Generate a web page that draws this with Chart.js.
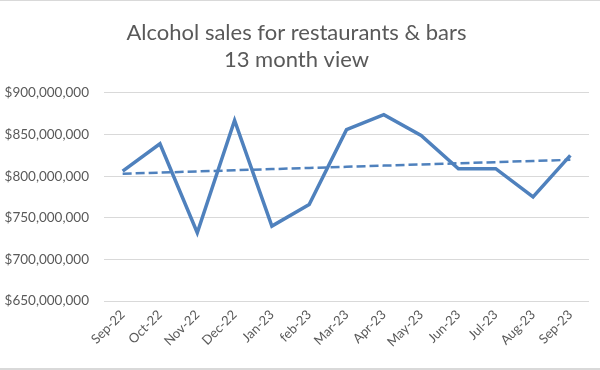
<!DOCTYPE html>
<html>
<head>
<meta charset="utf-8">
<script src="https://cdn.jsdelivr.net/npm/chart.js@4/dist/chart.umd.min.js"></script>
<style>
  html, body { margin: 0; padding: 0; background: #fff; }
  #wrap { width: 600px; height: 370px; box-sizing: border-box; border-top: 1px solid #d9d9d9; border-bottom: 2px solid #d9d9d9; }
  canvas { display: block; }
</style>
</head>
<body>
<div id="wrap"><canvas id="c" width="600" height="367"></canvas></div>
<script>
const months = ["Sep-22","Oct-22","Nov-22","Dec-22","Jan-23","feb-23","Mar-23","Apr-23","May-23","Jun-23","Jul-23","Aug-23","Sep-23"];
const sales = [806000000, 839000000, 732000000, 867000000, 740000000, 766000000, 856000000, 874000000, 849000000, 809000000, 809000000, 775000000, 825000000];
const yTicks = [650000000, 700000000, 750000000, 800000000, 850000000, 900000000];
const titleLines = ["Alcohol sales for restaurants & bars", "13 month view"];

// Linear trendline (least squares) derived from sales
const n = sales.length;
const xMean = (n - 1) / 2;
const yMean = sales.reduce((a, b) => a + b, 0) / n;
let num = 0, den = 0;
sales.forEach((v, i) => { num += (i - xMean) * (v - yMean); den += (i - xMean) * (i - xMean); });
const slope = num / den;
const trend = sales.map((v, i) => yMean + slope * (i - xMean));

const grey = '#595959';
const blue = '#4f81bd';
const font = "Lato, 'Liberation Sans', sans-serif";

new Chart(document.getElementById('c'), {
  type: 'line',
  data: {
    labels: months,
    datasets: [
      { data: sales, borderColor: blue, borderWidth: 3.5, pointRadius: 0, tension: 0, fill: false, borderJoinStyle: 'miter' },
      { data: trend, borderColor: blue, borderWidth: 2.5, borderDash: [9, 4], pointRadius: 0, tension: 0, fill: false }
    ]
  },
  options: {
    responsive: false,
    animation: false,
    layout: { padding: { left: 4, right: 11, top: 0, bottom: 0 } },
    plugins: {
      legend: { display: false },
      tooltip: { enabled: false },
      title: {
        display: true,
        text: titleLines,
        color: grey,
        font: { family: font, size: 22, weight: 'normal', lineHeight: 1.227 },
        padding: { top: 18.5, bottom: 19.5 }
      }
    },
    scales: {
      x: {
        offset: true,
        grid: { display: false, drawTicks: false },
        border: { display: false },
        ticks: { color: grey, font: { family: font, size: 13 }, minRotation: 45, maxRotation: 45, autoSkip: false, padding: 6 },
        afterFit: (s) => { s.height = 67; }
      },
      y: {
        min: yTicks[0],
        max: yTicks[yTicks.length - 1],
        afterBuildTicks: (s) => { s.ticks = yTicks.map(v => ({ value: v })); },
        grid: { color: '#d9d9d9', lineWidth: 1, drawTicks: false },
        border: { display: false },
        ticks: {
          color: grey, font: { family: font, size: 13.5 }, padding: 15,
          callback: (v) => '$' + Number(v).toLocaleString('en-US')
        },
        afterFit: (s) => { s.width = 100; }
      }
    }
  }
});
</script>
</body>
</html>
